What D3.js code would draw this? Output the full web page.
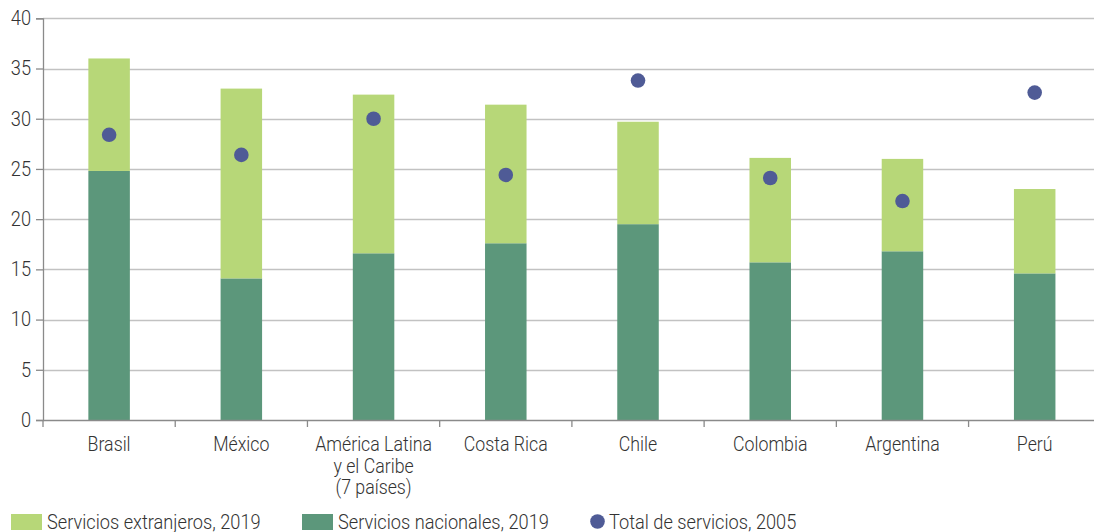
<!DOCTYPE html>
<html><head><meta charset="utf-8">
<script src="https://cdn.jsdelivr.net/npm/d3@7"></script>
<style>
html,body{margin:0;padding:0;background:#fff;overflow:hidden}
text{font-family:"Roboto",sans-serif;font-weight:300;fill:#333}
</style></head>
<body>
<svg id="c" width="1094" height="532"></svg>
<script>
const categories = ["Brasil","México","América Latina\ny el Caribe\n(7 países)","Costa Rica","Chile","Colombia","Argentina","Perú"];
const nacionales2019 = [24.8, 14.1, 16.6, 17.6, 19.5, 15.7, 16.8, 14.6];
const extranjeros2019 = [11.2, 18.9, 15.8, 13.8, 10.2, 10.4, 9.2, 8.4];
const total2005 = [28.4, 26.4, 30.0, 24.4, 33.8, 24.1, 21.8, 32.6];
const yTicks = [0,5,10,15,20,25,30,35,40];
const legendLabels = ["Servicios extranjeros, 2019","Servicios nacionales, 2019","Total de servicios, 2005"];
const colors = {ext:"#b7d778", nac:"#5c977b", dot:"#4f5b96"};
const K = 0.91; // horizontal condensing of the text

const svg = d3.select("#c");
const x = d3.scaleBand().domain(categories).range([43, 1100.8]).paddingInner(0).paddingOuter(0);
const y = d3.scaleLinear().domain([0,40]).range([420, 18.3]);
const barW = 41.5;

function condense(sel){
  sel.each(function(){
    const w = this.getComputedTextLength();
    if (w > 0) d3.select(this).attr("textLength", w*K).attr("lengthAdjust","spacingAndGlyphs");
  });
}

// gridlines
svg.append("g").selectAll("line").data(yTicks.filter(d=>d>0)).join("line")
  .attr("x1",43).attr("x2",1094).attr("y1",d=>Math.round(y(d))+0.5).attr("y2",d=>Math.round(y(d))+0.5)
  .attr("stroke","#c2c2c2").attr("stroke-width",1.3);

// bars
const g = svg.append("g");
g.selectAll("rect.nac").data(categories).join("rect").attr("class","nac")
  .attr("x",d=>x(d)+x.bandwidth()/2-barW/2).attr("width",barW)
  .attr("y",(d,i)=>y(nacionales2019[i])).attr("height",(d,i)=>y(0)-y(nacionales2019[i]))
  .attr("fill",colors.nac);
g.selectAll("rect.ext").data(categories).join("rect").attr("class","ext")
  .attr("x",d=>x(d)+x.bandwidth()/2-barW/2).attr("width",barW)
  .attr("y",(d,i)=>y(nacionales2019[i]+extranjeros2019[i])).attr("height",(d,i)=>y(nacionales2019[i])-y(nacionales2019[i]+extranjeros2019[i]))
  .attr("fill",colors.ext);
g.selectAll("circle").data(categories).join("circle")
  .attr("cx",d=>x(d)+x.bandwidth()/2).attr("cy",(d,i)=>y(total2005[i])).attr("r",7.3)
  .attr("fill",colors.dot);

// y axis
const yAxis = svg.append("g").attr("transform","translate(43,0)")
  .call(d3.axisLeft(y).tickValues(yTicks).tickSize(7).tickPadding(5));
yAxis.select(".domain").attr("stroke","#8a8a8a").attr("stroke-width",1.3);
yAxis.selectAll(".tick line").attr("stroke","#8a8a8a").attr("stroke-width",1.3);
yAxis.selectAll(".tick text").attr("font-size",20).attr("fill","#333")
  .style("font-family","Roboto,sans-serif").style("font-weight",300).call(condense);

// x axis
const xAxis = svg.append("g").attr("transform","translate(0,420)")
  .call(d3.axisBottom(x).tickSize(0).tickFormat(""));
xAxis.select(".domain").attr("stroke","#8a8a8a").attr("stroke-width",1.3);
xAxis.selectAll("line.bt").data(categories.concat([null])).join("line").attr("class","bt")
  .attr("x1",(d,i)=>43+i*x.bandwidth()).attr("x2",(d,i)=>43+i*x.bandwidth())
  .attr("y1",0).attr("y2",7).attr("stroke","#8a8a8a").attr("stroke-width",1.3);

const lblG = svg.append("g");
categories.forEach(d=>{
  const parts = d.split("\n");
  parts.forEach((p,i)=>{
    lblG.append("text").attr("text-anchor","middle").attr("font-size",19.5)
      .attr("x",x(d)+x.bandwidth()/2).attr("y",451+i*21.5).text(p).call(condense);
  });
});

// legend
const lg = svg.append("g");
lg.append("rect").attr("x",11).attr("y",514).attr("width",31).attr("height",16).attr("fill",colors.ext);
lg.append("text").attr("x",47).attr("y",529).attr("font-size",20).text(legendLabels[0]).call(condense);
lg.append("rect").attr("x",302).attr("y",514).attr("width",31).attr("height",16).attr("fill",colors.nac);
lg.append("text").attr("x",338).attr("y",529).attr("font-size",20).text(legendLabels[1]).call(condense);
lg.append("circle").attr("cx",597.5).attr("cy",521.5).attr("r",7.3).attr("fill",colors.dot);
lg.append("text").attr("x",609).attr("y",529).attr("font-size",20).text(legendLabels[2]).call(condense);
</script>
</body></html>
